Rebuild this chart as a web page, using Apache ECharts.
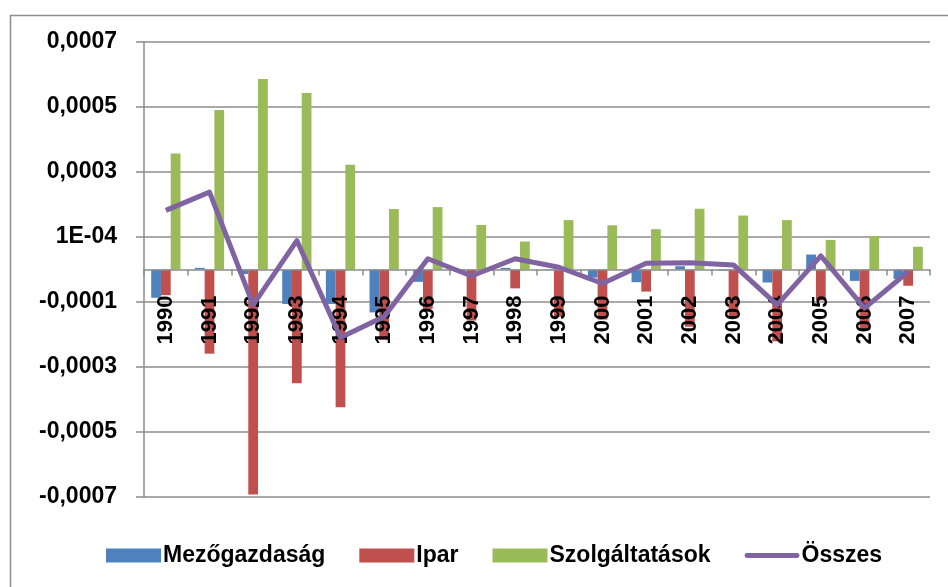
<!DOCTYPE html>
<html>
<head>
<meta charset="utf-8">
<script src="https://cdn.jsdelivr.net/npm/echarts@6/dist/echarts.min.js"></script>
<style>
html,body{margin:0;padding:0;background:#fff;}
#chart{width:948px;height:587px;}
</style>
</head>
<body>
<div id="chart"></div>
<script>
var years = ['1990','1991','1992','1993','1994','1995','1996','1997','1998','1999','2000','2001','2002','2003','2004','2005','2006','2007'];
var mezogazdasag = [-0.000087, 0.000005, -0.000014, -0.000106, -0.000106, -0.000132, -0.000038, -0.000002, 0.000005, -0.000002, -0.000025, -0.000039, 0.000010, -0.000003, -0.000040, 0.000046, -0.000035, -0.000029];
var ipar = [-0.000079, -0.000259, -0.000692, -0.000350, -0.000424, -0.000217, -0.000121, -0.000157, -0.000058, -0.000145, -0.000154, -0.000068, -0.000176, -0.000149, -0.000221, -0.000095, -0.000187, -0.000050];
var szolgaltatasok = [0.000357, 0.000491, 0.000586, 0.000543, 0.000322, 0.000186, 0.000192, 0.000137, 0.000086, 0.000152, 0.000136, 0.000124, 0.000187, 0.000166, 0.000152, 0.000091, 0.000103, 0.000070];
var osszes = [0.000182, 0.000238, -0.000109, 0.000089, -0.000209, -0.000145, 0.000033, -0.000020, 0.000033, 0.000007, -0.000043, 0.000019, 0.000021, 0.000014, -0.000109, 0.000042, -0.000119, -0.000007];
var yTickLabels = ['-0,0007','-0,0005','-0,0003','-0,0001','1E-04','0,0003','0,0005','0,0007'];
var seriesNames = ['Mezőgazdaság','Ipar','Szolgáltatások','Összes'];

var yMin = -0.0007, yMax = 0.0007, yStep = 0.0002;
var gridTop = 42, gridBottom = 90, chartH = 587;
var font = '"Liberation Sans", Arial, sans-serif';
var chart = echarts.init(document.getElementById('chart'), null, {renderer:'canvas'});
var plotH = chartH - gridTop - gridBottom;
var zeroOffset = -plotH * (0 - yMin) / (yMax - yMin);
var lineIcon = 'path://M0,0 L0,0 M2,4.5 L53,4.5 A2.5,2.5 0 0 1 53,9.5 L2,9.5 A2.5,2.5 0 0 1 2,4.5 Z M55,14 L55,14';
chart.setOption({
  animation: false,
  backgroundColor: '#fff',
  graphic: [{
    type: 'rect', left: 8, top: 13, shape: {width: 960, height: 600},
    style: {fill: 'none', stroke: '#8c8c8c', lineWidth: 1.5}, silent: true, z: -10
  }],
  grid: {left: 144, right: 18, top: gridTop, bottom: gridBottom, containLabel: false},
  legend: {
    left: 101, top: 539,
    itemWidth: 55, itemHeight: 14, itemGap: 34,
    textStyle: {fontFamily: font, fontWeight: 'bold', fontSize: 23, color: '#000', padding: [0,0,0,-3]},
    data: [
      {name: seriesNames[0], icon: 'rect'},
      {name: seriesNames[1], icon: 'rect'},
      {name: seriesNames[2], icon: 'rect'},
      {name: seriesNames[3], icon: lineIcon, itemStyle: {color: '#8064A2'}, lineStyle: {width: 0, opacity: 0}}
    ]
  },
  xAxis: {
    type: 'category', data: years,
    offset: zeroOffset, z: 3,
    axisLine: {onZero: false, lineStyle: {color: '#8c8c8c', width: 1.5}},
    axisTick: {show: true, length: 6, interval: 0, lineStyle: {color: '#8c8c8c', width: 1.5}},
    axisLabel: {rotate: 90, margin: 26, interval: 0, fontFamily: font, fontWeight: 'bold', fontSize: 22, color: '#000'},
    splitLine: {show: false}
  },
  yAxis: {
    type: 'value', min: yMin, max: yMax, interval: yStep,
    axisLine: {show: true, lineStyle: {color: '#8c8c8c', width: 1.5}},
    axisTick: {show: true, length: 8, lineStyle: {color: '#8c8c8c', width: 1.5}},
    axisLabel: {
      margin: 27, fontFamily: font, fontWeight: 'bold', fontSize: 23, color: '#000',
      formatter: function (v) {
        var i = Math.round((v - yMin) / yStep);
        return yTickLabels[i] !== undefined ? yTickLabels[i] : '';
      }
    },
    splitLine: {show: true, lineStyle: {color: '#8c8c8c', width: 1.5}}
  },
  series: [
    {name: seriesNames[0], type: 'bar', data: mezogazdasag, itemStyle: {color: '#4F81BD'}, barGap: '0%', barCategoryGap: '33%'},
    {name: seriesNames[1], type: 'bar', data: ipar, itemStyle: {color: '#C0504D'}, barGap: '0%', barCategoryGap: '33%'},
    {name: seriesNames[2], type: 'bar', data: szolgaltatasok, itemStyle: {color: '#9BBB59'}, barGap: '0%', barCategoryGap: '33%'},
    {name: seriesNames[3], type: 'line', data: osszes, symbol: 'none', z: 5,
     lineStyle: {color: '#8064A2', width: 5, join: 'round'}, itemStyle: {color: '#8064A2'}}
  ]
});
</script>
</body>
</html>
